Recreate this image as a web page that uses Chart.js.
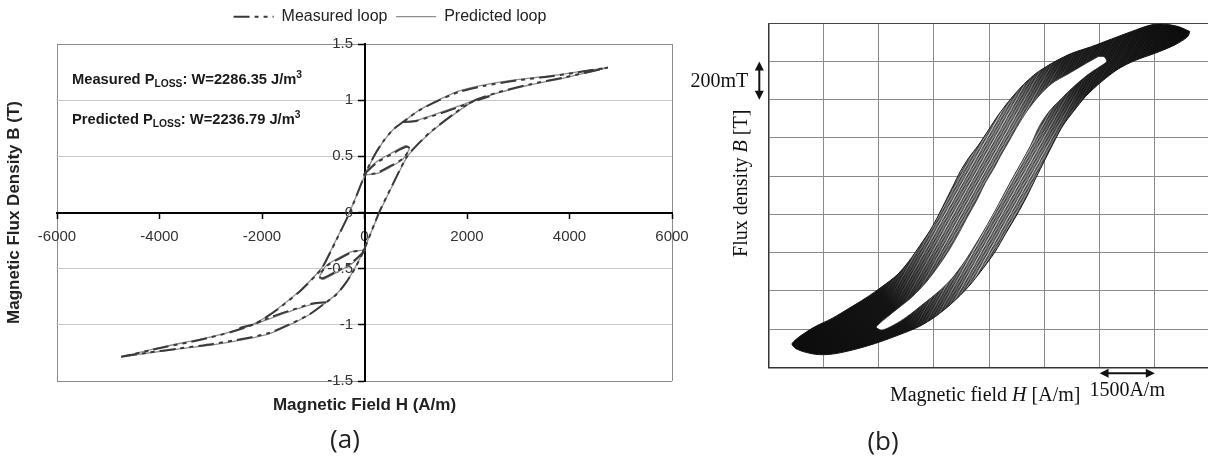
<!DOCTYPE html>
<html>
<head>
<meta charset="utf-8">
<script src="https://cdn.jsdelivr.net/npm/chart.js@4.4.1/dist/chart.umd.min.js"></script>
<style>
  html, body { margin: 0; padding: 0; background: #fff; overflow: hidden; }
  body { position: relative; width: 1208px; height: 463px; }
  canvas { position: absolute; top: 0; }
  #chartA { left: 0; }
  #chartB { left: 680px; }
  .cap { position: absolute; font-family: "Open Sans", sans-serif; font-size: 26px; color: #222;
         transform: translate(-50%, -50%); line-height: 1; }
</style>
</head>
<body>
<canvas id="chartA" width="780" height="463"></canvas>
<canvas id="chartB" width="540" height="463"></canvas>
<div class="cap" style="left:345px; top:438px">(a)</div>
<div class="cap" style="left:883px; top:440px">(b)</div>
<script>
// ---------- panel (a) data: H in A/m, B in T ----------
const descH = [4750, 4260, 3610, 2960, 2310, 1850, 1460, 1070, 750, 550, 360, 195, 30, -290, -550, -810, -940, -1270, -1720, -2110, -2570, -3220, -3870, -4750];
const ascH = [-4750, -4260, -3610, -2960, -2310, -1850, -1460, -1070, -750, -550, -360, -195, -30, 290, 550, 810, 940, 1270, 1720, 2110, 2570, 3220, 3870, 4750];
const measDescB = [1.29, 1.255, 1.21, 1.175, 1.125, 1.075, 1.0, 0.91, 0.805, 0.735, 0.63, 0.51, 0.36, 0.0, -0.245, -0.48, -0.555, -0.705, -0.87, -0.985, -1.06, -1.135, -1.195, -1.285];
const measAscB = [-1.285, -1.25, -1.21, -1.17, -1.12, -1.07, -0.995, -0.905, -0.8, -0.73, -0.625, -0.505, -0.355, 0.005, 0.25, 0.485, 0.56, 0.71, 0.87, 0.99, 1.065, 1.14, 1.2, 1.29];
const predDescB = [1.29, 1.258, 1.215, 1.182, 1.133, 1.082, 1.005, 0.912, 0.805, 0.733, 0.627, 0.508, 0.355, 0.005, -0.24, -0.475, -0.55, -0.7, -0.865, -0.98, -1.055, -1.13, -1.19, -1.285];
const predAscB = [-1.285, -1.253, -1.214, -1.178, -1.128, -1.078, -1.0, -0.908, -0.8, -0.728, -0.622, -0.5, -0.35, 0.0, 0.245, 0.48, 0.555, 0.705, 0.865, 0.985, 1.06, 1.135, 1.195, 1.29];

// minor loops
const minorUpH = [750, 1010, 1400, 1790, 2110, 2440];
const minorLoH = [-750, -1010, -1400, -1790, -2110, -2440];
const measMinorUpB = [0.805, 0.815, 0.87, 0.93, 0.985, 1.035];
const measMinorLoB = [-0.8, -0.81, -0.865, -0.925, -0.985, -1.03];
const predMinorUpB = [0.805, 0.82, 0.878, 0.94, 0.992, 1.04];
const predMinorLoB = [-0.8, -0.815, -0.872, -0.935, -0.99, -1.035];
const lensUpH = [-20, 230, 550, 810, 880, 750, 490, 230, -20];
const lensLoH = [20, -230, -550, -810, -880, -750, -490, -230, 20];
const measLensUpB = [0.335, 0.44, 0.525, 0.585, 0.57, 0.48, 0.41, 0.35, 0.335];
const measLensLoB = [-0.335, -0.44, -0.525, -0.585, -0.57, -0.48, -0.41, -0.35, -0.335];
const predLensUpB = [0.335, 0.45, 0.535, 0.595, 0.575, 0.475, 0.4, 0.345, 0.335];
const predLensLoB = [-0.335, -0.45, -0.535, -0.595, -0.575, -0.475, -0.4, -0.345, -0.335];

const seriesNames = ['Measured loop', 'Predicted loop'];
const hTicksA = [-6000, -4000, -2000, 0, 2000, 4000, 6000];
const bTicksA = [-1.5, -1, -0.5, 0, 0.5, 1, 1.5];
const lossNames = ['Measured', 'Predicted'];
const lossValues = ['2286.35', '2236.79'];

// ---------- panel (b) data: traced outline of the loop band ----------
const outerH = [5451, 5135, 4773, 4411, 3869, 3327, 2784, 2242, 1790, 1338, 1067, 795, 524, 253, -18, -289, -561, -787, -967, -1148, -1374, -1600, -1871, -2188, -2504, -2911, -3363, -3815, -4267, -4809, -5352, -5216, -4719, -4267, -3725, -3092, -2459, -1917, -1465, -1013, -561, -199, 163, 452, 750, 1021, 1265, 1537, 1790, 2016, 2287, 2621, 3055, 3507, 3959, 4502, 5044, 5388, 5451];
const outerB = [0.857, 0.883, 0.895, 0.892, 0.857, 0.818, 0.778, 0.743, 0.7, 0.647, 0.604, 0.551, 0.49, 0.421, 0.342, 0.263, 0.194, 0.124, 0.054, -0.016, -0.103, -0.182, -0.26, -0.347, -0.417, -0.478, -0.539, -0.592, -0.644, -0.696, -0.775, -0.806, -0.832, -0.831, -0.81, -0.775, -0.731, -0.688, -0.635, -0.565, -0.478, -0.391, -0.295, -0.199, -0.103, -0.007, 0.089, 0.194, 0.29, 0.368, 0.438, 0.517, 0.595, 0.661, 0.705, 0.743, 0.787, 0.829, 0.857];
const gapH = [2965, 2560, 2130, 1710, 1340, 1020, 790, 560, 350, 130, -110, -330, -560, -800, -1060, -1360, -1700, -2090, -2480, -2790, -3001, -3065, -2911, -2595, -2233, -1826, -1374, -1013, -669, -380, -109, 145, 389, 633, 886, 1130, 1356, 1627, 1971, 2350, 2694, 3010, 3191, 3128, 2965];
const gapB = [0.726, 0.682, 0.633, 0.586, 0.517, 0.438, 0.368, 0.29, 0.22, 0.141, 0.063, -0.024, -0.103, -0.19, -0.278, -0.365, -0.452, -0.531, -0.592, -0.64, -0.675, -0.691, -0.705, -0.679, -0.635, -0.574, -0.504, -0.435, -0.347, -0.26, -0.173, -0.086, 0.002, 0.089, 0.176, 0.263, 0.359, 0.438, 0.508, 0.578, 0.633, 0.674, 0.7, 0.724, 0.726];
const gridH = [-6000, -4500, -3000, -1500, 0, 1500, 3000, 4500, 6000];
const gridB = [-0.9, -0.7, -0.5, -0.3, -0.1, 0.1, 0.3, 0.5, 0.7, 0.9];
const xTitleB = [['Magnetic field ', false], ['H', true], [' [A/m]', false]];
const yTitleB = [['Flux density ', false], ['B', true], [' [T]', false]];
const bStepNote = '200mT';
const hStepNote = '1500A/m';

const SANS = '"Liberation Sans", Arial, sans-serif';
const SERIF = '"Liberation Serif", "Times New Roman", serif';

const pts = (hs, bs) => hs.map((h, i) => ({x: h, y: bs[i]}));

function loopSet(label, data, measured) {
    const base = {label, data, showLine: true, pointRadius: 0, tension: 0.25, fill: false, xAxisID: 'x', yAxisID: 'y'};
    if (measured) {
        return Object.assign(base, {borderColor: '#3a3a3a', borderWidth: 2, borderDash: [16, 5, 4, 5, 4, 5], order: 0});
    }
    return Object.assign(base, {borderColor: '#8e8e8e', borderWidth: 1.3, order: 1});
}

// loss annotations with sub/superscripts
const lossText = {
    id: 'lossText',
    afterDatasetsDraw(chart) {
        const {ctx, chartArea: a} = chart;
        ctx.save();
        ctx.fillStyle = '#1a1a1a';
        ctx.textBaseline = 'alphabetic';
        lossNames.forEach((name, i) => {
            let px = a.left + 15;
            const py = a.top + 40 + i * 40.3;
            const parts = [[name + ' P', 0], ['LOSS', -1], [': W=' + lossValues[i] + ' J/m', 0], ['3', 1]];
            parts.forEach(([t, k]) => {
                ctx.font = 'bold ' + (k ? 10.3 : 14.7) + 'px ' + SANS;
                ctx.fillText(t, px, py + (k < 0 ? 3 : k > 0 ? -6.5 : 0));
                px += ctx.measureText(t).width;
            });
        });
        ctx.restore();
    }
};

new Chart(document.getElementById('chartA'), {
    type: 'scatter',
    data: {
        datasets: [
            loopSet(seriesNames[0], pts(ascH, measAscB).concat(pts(descH, measDescB)), true),
            loopSet(seriesNames[1], pts(ascH, predAscB).concat(pts(descH, predDescB)), false),
            loopSet(seriesNames[0], pts(minorUpH, measMinorUpB), true),
            loopSet(seriesNames[0], pts(minorLoH, measMinorLoB), true),
            loopSet(seriesNames[0], pts(lensUpH, measLensUpB), true),
            loopSet(seriesNames[0], pts(lensLoH, measLensLoB), true),
            loopSet(seriesNames[1], pts(minorUpH, predMinorUpB), false),
            loopSet(seriesNames[1], pts(minorLoH, predMinorLoB), false),
            loopSet(seriesNames[1], pts(lensUpH, predLensUpB), false),
            loopSet(seriesNames[1], pts(lensLoH, predLensLoB), false)
        ]
    },
    options: {
        responsive: false,
        animation: false,
        events: [],
        layout: {padding: {left: 0, right: 0, top: 0, bottom: 42}},
        plugins: {
            legend: {
                position: 'top',
                labels: {
                    usePointStyle: true, pointStyle: 'line', pointStyleWidth: 40, padding: 8.7,
                    color: '#222', font: {family: SANS, size: 16},
                    // one entry per series, drawn with the dataset's own dash
                    generateLabels: chart => Chart.defaults.plugins.legend.labels.generateLabels(chart)
                        .filter(item => item.datasetIndex < 2)
                        .map(item => {
                            const ds = chart.data.datasets[item.datasetIndex];
                            item.lineDash = ds.borderDash || [];
                            item.lineWidth = ds.borderWidth;
                            item.strokeStyle = ds.borderColor;
                            return item;
                        })
                }
            },
            tooltip: {enabled: false}
        },
        scales: {
            x: {
                type: 'linear', position: 'center', min: -6000, max: 6000,
                afterBuildTicks: s => { s.ticks = hTicksA.map(v => ({value: v})); },
                ticks: {callback: v => String(v), color: '#333', font: {family: SANS, size: 15}, padding: 10, autoSkip: false, maxRotation: 0},
                grid: {
                    color: c => (c.tick && Math.abs(c.tick.value) === 6000) ? '#8c8c8c' : 'rgba(0,0,0,0)',
                    tickColor: '#000', tickLength: 5, tickWidth: 1.5
                },
                border: {color: '#000', width: 2}
            },
            y: {
                type: 'linear', position: 'center', min: -1.5, max: 1.5,
                afterBuildTicks: s => { s.ticks = bTicksA.map(v => ({value: v})); },
                ticks: {callback: v => String(v), color: '#333', font: {family: SANS, size: 15}, padding: 5.5},
                grid: {
                    color: c => {
                        if (!c.tick) return 'rgba(0,0,0,0)';
                        const v = Math.abs(c.tick.value);
                        return v === 0 ? 'rgba(0,0,0,0)' : v === 1.5 ? '#8c8c8c' : '#c8c8c8';
                    },
                    tickColor: '#000', tickLength: 6, tickWidth: 1.5
                },
                border: {color: '#000', width: 2}
            },
            // side boxes: axis titles and spacing around the plot
            yTitle: {
                type: 'linear', axis: 'y', position: 'left', display: true,
                ticks: {display: false}, grid: {display: false}, border: {display: false},
                title: {display: true, text: 'Magnetic Flux Density B (T)', color: '#222',
                        font: {family: SANS, size: 17, weight: 'bold'}, padding: {top: 4, bottom: 0}},
                afterFit: s => { s.width = 57; }
            },
            xTitle: {
                type: 'linear', axis: 'x', position: 'bottom', display: true,
                ticks: {display: false}, grid: {display: false}, border: {display: false},
                title: {display: true, text: 'Magnetic Field H (A/m)', color: '#222',
                        font: {family: SANS, size: 17, weight: 'bold'}, padding: {top: 0, bottom: 5.8}},
                afterFit: s => { s.height = 40; }
            },
            padR: {
                type: 'linear', axis: 'y', position: 'right', display: true,
                ticks: {display: false}, grid: {display: false}, border: {display: false},
                afterFit: s => { s.width = 108; }
            },
            padT: {
                type: 'linear', axis: 'x', position: 'top', display: true,
                ticks: {display: false}, grid: {display: false}, border: {display: false},
                afterFit: s => { s.height = 9.3; }
            }
        }
    },
    plugins: [lossText]
});

// ---------- panel (b) ----------
// dark tips, streaky grey middle (the many superposed loops of the band)
let bandCache = null;
function bandFill(c) {
    const chart = c.chart;
    const {x, y} = chart.scales;
    if (!x || !y || !chart.chartArea) return '#333';
    if (bandCache) return bandCache;
    const iL = outerH.indexOf(Math.min(...outerH));
    const iR = outerH.indexOf(Math.max(...outerH));
    const x0 = x.getPixelForValue(outerH[iL]), y0 = y.getPixelForValue(outerB[iL]);
    const x1 = x.getPixelForValue(outerH[iR]), y1 = y.getPixelForValue(outerB[iR]);
    const w = chart.width, h = chart.height;

    const base = document.createElement('canvas');
    base.width = w; base.height = h;
    const bc = base.getContext('2d');
    const g = bc.createLinearGradient(x0, y0, x1, y1);
    g.addColorStop(0, '#0c0c0c');
    g.addColorStop(0.2, '#141414');
    g.addColorStop(0.36, '#454545');
    g.addColorStop(0.62, '#4c4c4c');
    g.addColorStop(0.76, '#1a1a1a');
    g.addColorStop(1, '#0c0c0c');
    bc.fillStyle = g;
    bc.fillRect(0, 0, w, h);

    // light streaks, two crossing families, faded out towards the tips
    const st = document.createElement('canvas');
    st.width = w; st.height = h;
    const sc = st.getContext('2d');
    sc.lineWidth = 1;
    let n = 0;
    for (let k = -h; k < w + h; k += 2.7, n++) {
        sc.strokeStyle = n % 3 === 0 ? 'rgba(255,255,255,0.75)' : 'rgba(255,255,255,0.45)';
        sc.beginPath();
        sc.moveTo(k, h);
        sc.lineTo(k + h * 0.55, 0);
        sc.stroke();
    }
    sc.strokeStyle = 'rgba(255,255,255,0.22)';
    for (let k = -h; k < w + h; k += 4.1) {
        sc.beginPath();
        sc.moveTo(k, h);
        sc.lineTo(k + h * 0.95, 0);
        sc.stroke();
    }
    sc.globalCompositeOperation = 'destination-in';
    const m = sc.createLinearGradient(x0, y0, x1, y1);
    m.addColorStop(0, 'rgba(0,0,0,0)');
    m.addColorStop(0.2, 'rgba(0,0,0,0)');
    m.addColorStop(0.38, 'rgba(0,0,0,0.95)');
    m.addColorStop(0.6, 'rgba(0,0,0,0.95)');
    m.addColorStop(0.76, 'rgba(0,0,0,0.15)');
    m.addColorStop(1, 'rgba(0,0,0,0)');
    sc.fillStyle = m;
    sc.fillRect(0, 0, w, h);
    bc.drawImage(st, 0, 0);

    bandCache = chart.ctx.createPattern(base, 'no-repeat');
    return bandCache;
}

function arrow(ctx, x1, y1, x2, y2) {
    const ang = Math.atan2(y2 - y1, x2 - x1);
    const hl = 9, hw = 4.5;
    ctx.lineWidth = 2;
    ctx.beginPath();
    ctx.moveTo(x1 + Math.cos(ang) * hl * 0.6, y1 + Math.sin(ang) * hl * 0.6);
    ctx.lineTo(x2 - Math.cos(ang) * hl * 0.6, y2 - Math.sin(ang) * hl * 0.6);
    ctx.stroke();
    [[x1, y1, ang + Math.PI], [x2, y2, ang]].forEach(([px, py, a]) => {
        ctx.beginPath();
        ctx.moveTo(px, py);
        ctx.lineTo(px - Math.cos(a) * hl - Math.sin(a) * hw, py - Math.sin(a) * hl + Math.cos(a) * hw);
        ctx.lineTo(px - Math.cos(a) * hl + Math.sin(a) * hw, py - Math.sin(a) * hl - Math.cos(a) * hw);
        ctx.closePath();
        ctx.fill();
    });
}

function serifParts(ctx, parts, cx, cy) {
    const fontOf = it => (it ? 'italic ' : '') + '20px ' + SERIF;
    let w = 0;
    parts.forEach(([t, it]) => { ctx.font = fontOf(it); w += ctx.measureText(t).width; });
    let px = cx - w / 2;
    ctx.textAlign = 'left';
    ctx.textBaseline = 'middle';
    parts.forEach(([t, it]) => {
        ctx.font = fontOf(it);
        ctx.fillText(t, px, cy);
        px += ctx.measureText(t).width;
    });
}

const notesB = {
    id: 'notesB',
    afterDraw(chart) {
        const {ctx, chartArea: a, scales: {x, y}} = chart;
        ctx.save();
        ctx.fillStyle = '#111';
        ctx.strokeStyle = '#111';
        // one grid row = 200 mT
        const ax = a.left - 9, y1 = y.getPixelForValue(gridB[8]), y2 = y.getPixelForValue(gridB[7]);
        arrow(ctx, ax, y1, ax, y2);
        ctx.font = '20px ' + SERIF;
        ctx.textAlign = 'right';
        ctx.textBaseline = 'middle';
        ctx.fillText(bStepNote, a.left - 20, (y1 + y2) / 2 + 1);
        // one grid column = 1500 A/m
        const x1 = x.getPixelForValue(gridH[6]), x2 = x.getPixelForValue(gridH[7]), ay = a.bottom + 6;
        arrow(ctx, x1, ay, x2, ay);
        ctx.textAlign = 'center';
        ctx.fillText(hStepNote, (x1 + x2) / 2, a.bottom + 23);
        serifParts(ctx, xTitleB, (a.left + a.right) / 2 - 4, a.bottom + 28);
        ctx.translate(a.left - 27, (a.top + a.bottom) / 2 - 12);
        ctx.rotate(-Math.PI / 2);
        serifParts(ctx, yTitleB, 0, 0);
        ctx.restore();
    }
};

new Chart(document.getElementById('chartB'), {
    type: 'scatter',
    data: {
        datasets: [
            {data: pts(gapH, gapB), showLine: true, fill: 'shape', backgroundColor: '#ffffff',
             borderColor: '#2a2a2a', borderWidth: 0.8, pointRadius: 0, tension: 0.3},
            {data: pts(outerH, outerB), showLine: true, fill: 'shape', backgroundColor: bandFill,
             borderColor: '#151515', borderWidth: 1, pointRadius: 0, tension: 0.3}
        ]
    },
    options: {
        responsive: false,
        animation: false,
        events: [],
        layout: {padding: {left: 88.3, right: 10, top: 23.3, bottom: 95.7}},
        plugins: {legend: {display: false}, tooltip: {enabled: false}},
        scales: {
            x: {
                type: 'linear', min: -6000, max: 6000,
                afterBuildTicks: s => { s.ticks = gridH.map(v => ({value: v})); },
                ticks: {display: false},
                grid: {color: '#8a8a8a', lineWidth: 1, drawTicks: false},
                border: {color: '#333', width: 1.5}
            },
            y: {
                type: 'linear', min: -0.9, max: 0.9,
                afterBuildTicks: s => { s.ticks = gridB.map(v => ({value: v})); },
                ticks: {display: false},
                grid: {color: c => (c.tick && c.tick.value > 0.85) ? '#444' : '#8a8a8a', lineWidth: 1, drawTicks: false},
                border: {color: '#333', width: 1.5}
            }
        }
    },
    plugins: [notesB]
});
</script>
</body>
</html>
